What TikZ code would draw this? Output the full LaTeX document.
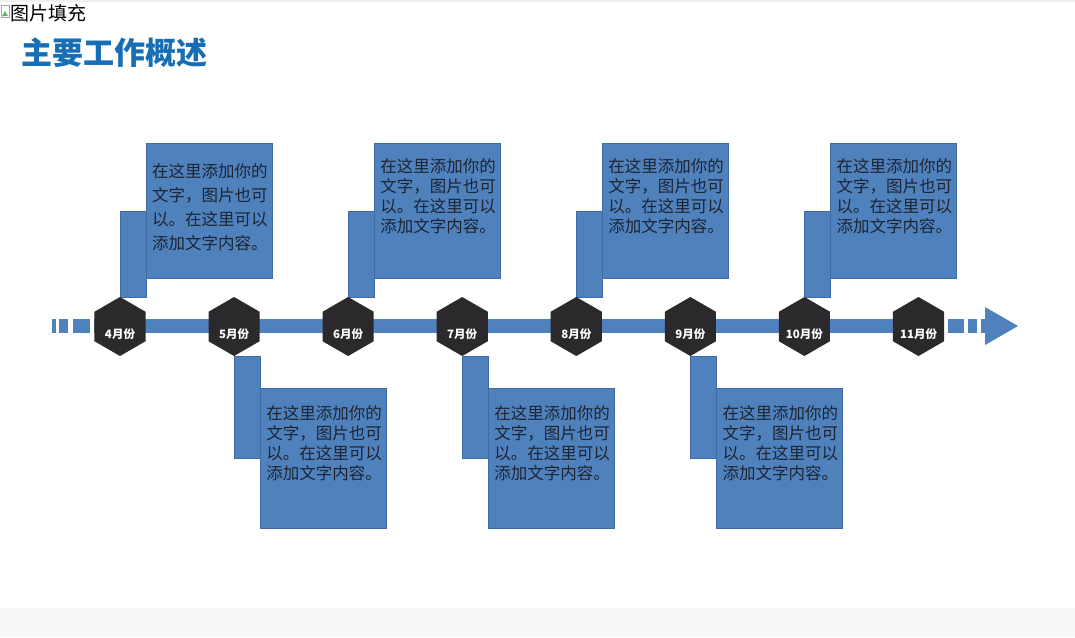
\documentclass[tikz,border=0pt]{standalone}
\usepackage{fontspec}
\setmainfont{Noto Sans CJK SC}
\newfontfamily\cjk{Noto Sans CJK SC}
\usetikzlibrary{shapes.geometric}
\definecolor{tlblue}{RGB}{79,129,189}
\definecolor{tledge}{RGB}{64,106,160}
\definecolor{hexfill}{RGB}{43,41,44}
\definecolor{titleblue}{RGB}{24,110,180}
\definecolor{boxtext}{RGB}{28,36,50}
\definecolor{footgray}{RGB}{248,248,248}
\definecolor{topgray}{RGB}{240,240,240}
\begin{document}
\begin{tikzpicture}[x=1pt,y=-1pt,
  hexa/.style={regular polygon, regular polygon sides=6, shape border rotate=30,
    minimum size=59pt, inner sep=0pt, fill=hexfill, draw=none},
  monthlabel/.style={font=\cjk\bfseries\fontsize{11.5}{12}\selectfont, text=white, inner sep=0pt},
  infobox/.style={rectangle, fill=tlblue, draw=tledge, line width=0.5pt, inner sep=0pt,
    minimum width=126pt, anchor=north west},
  conn/.style={fill=tlblue, draw=tledge, line width=0.5pt},
  boxtextstyle/.style={font=\cjk\fontsize{16.5}{20}\selectfont, text=boxtext, align=left,
    inner sep=0pt, anchor=north west},
  barstyle/.style={fill=tlblue}]
\useasboundingbox (0,0) rectangle (1075,637);
\fill[white] (0,0) rectangle (1075,637);
\fill[topgray] (0,0) rectangle (1075,2);
\fill[footgray] (0,608) rectangle (1075,637);
% broken-image icon and alt text
\draw[gray!70, line width=0.5pt] (1,5) rectangle (9,17);
\fill[green!50!black!60] (2,16) -- (5,11) -- (8,16) -- cycle;
\node[font=\cjk\fontsize{19}{20}\selectfont, anchor=west, inner sep=0pt] (alt) at (10,13) {图片填充};
% title
\node[font=\cjk\bfseries\fontsize{31}{32}\selectfont, text=titleblue, anchor=west, inner sep=0pt] (title) at (21,53) {主要工作概述};
% timeline bar, dashes and arrow
\fill[barstyle] (94,319) rectangle (944,333);
\fill[barstyle] (52,319) rectangle (56,333);
\fill[barstyle] (59,319) rectangle (68,333);
\fill[barstyle] (73,319) rectangle (90,333);
\fill[barstyle] (948,319) rectangle (964,333);
\fill[barstyle] (968,319) rectangle (977,333);
\fill[barstyle] (981,319) rectangle (986,333);
\fill[barstyle] (985,307) -- (1018,326) -- (985,345) -- cycle;
% month centre coordinates
\foreach \i/\m in {0/4,1/5,2/6,3/7,4/8,5/9,6/10,7/11}{
  \coordinate (c\m) at ({120+114.07*\i},326.5);
}
% upper boxes
\foreach \m/\ty/\ls in {4/163/24,6/158/20,8/158/20,10/158/20}{
  \node[infobox, minimum height=135pt] (b\m) at ([xshift=26pt]c\m |- 0,143) {};
  \draw[conn] (c\m |- 0,211) rectangle (b\m.west |- 0,297);
  \draw[tledge, line width=0.5pt] (b\m.north west) -- (b\m.south west);
  \node[boxtextstyle, font=\cjk\fontsize{16.5}{\ls}\selectfont] (t\m) at ([xshift=32pt]c\m |- 0,\ty)
    {在这里添加你的\\文字，图片也可\\以。在这里可以\\添加文字内容。};
}
% lower boxes
\foreach \m in {5,7,9}{
  \node[infobox, minimum height=140pt] (b\m) at ([xshift=26pt]c\m |- 0,388) {};
  \draw[conn] (c\m |- 0,356) rectangle (b\m.west |- 0,458);
  \draw[tledge, line width=0.5pt] (b\m.north west) -- (b\m.south west);
  \node[boxtextstyle] (t\m) at ([xshift=32pt]c\m |- 0,405)
    {在这里添加你的\\文字，图片也可\\以。在这里可以\\添加文字内容。};
}
% hexagons and labels
\foreach \m in {4,5,6,7,8,9,10,11}{
  \node[hexa] (h\m) at (c\m) {};
  \node[monthlabel] (l\m) at ([yshift=-7.5pt]c\m) {{\m}月份};
}
\end{tikzpicture}
\end{document}
